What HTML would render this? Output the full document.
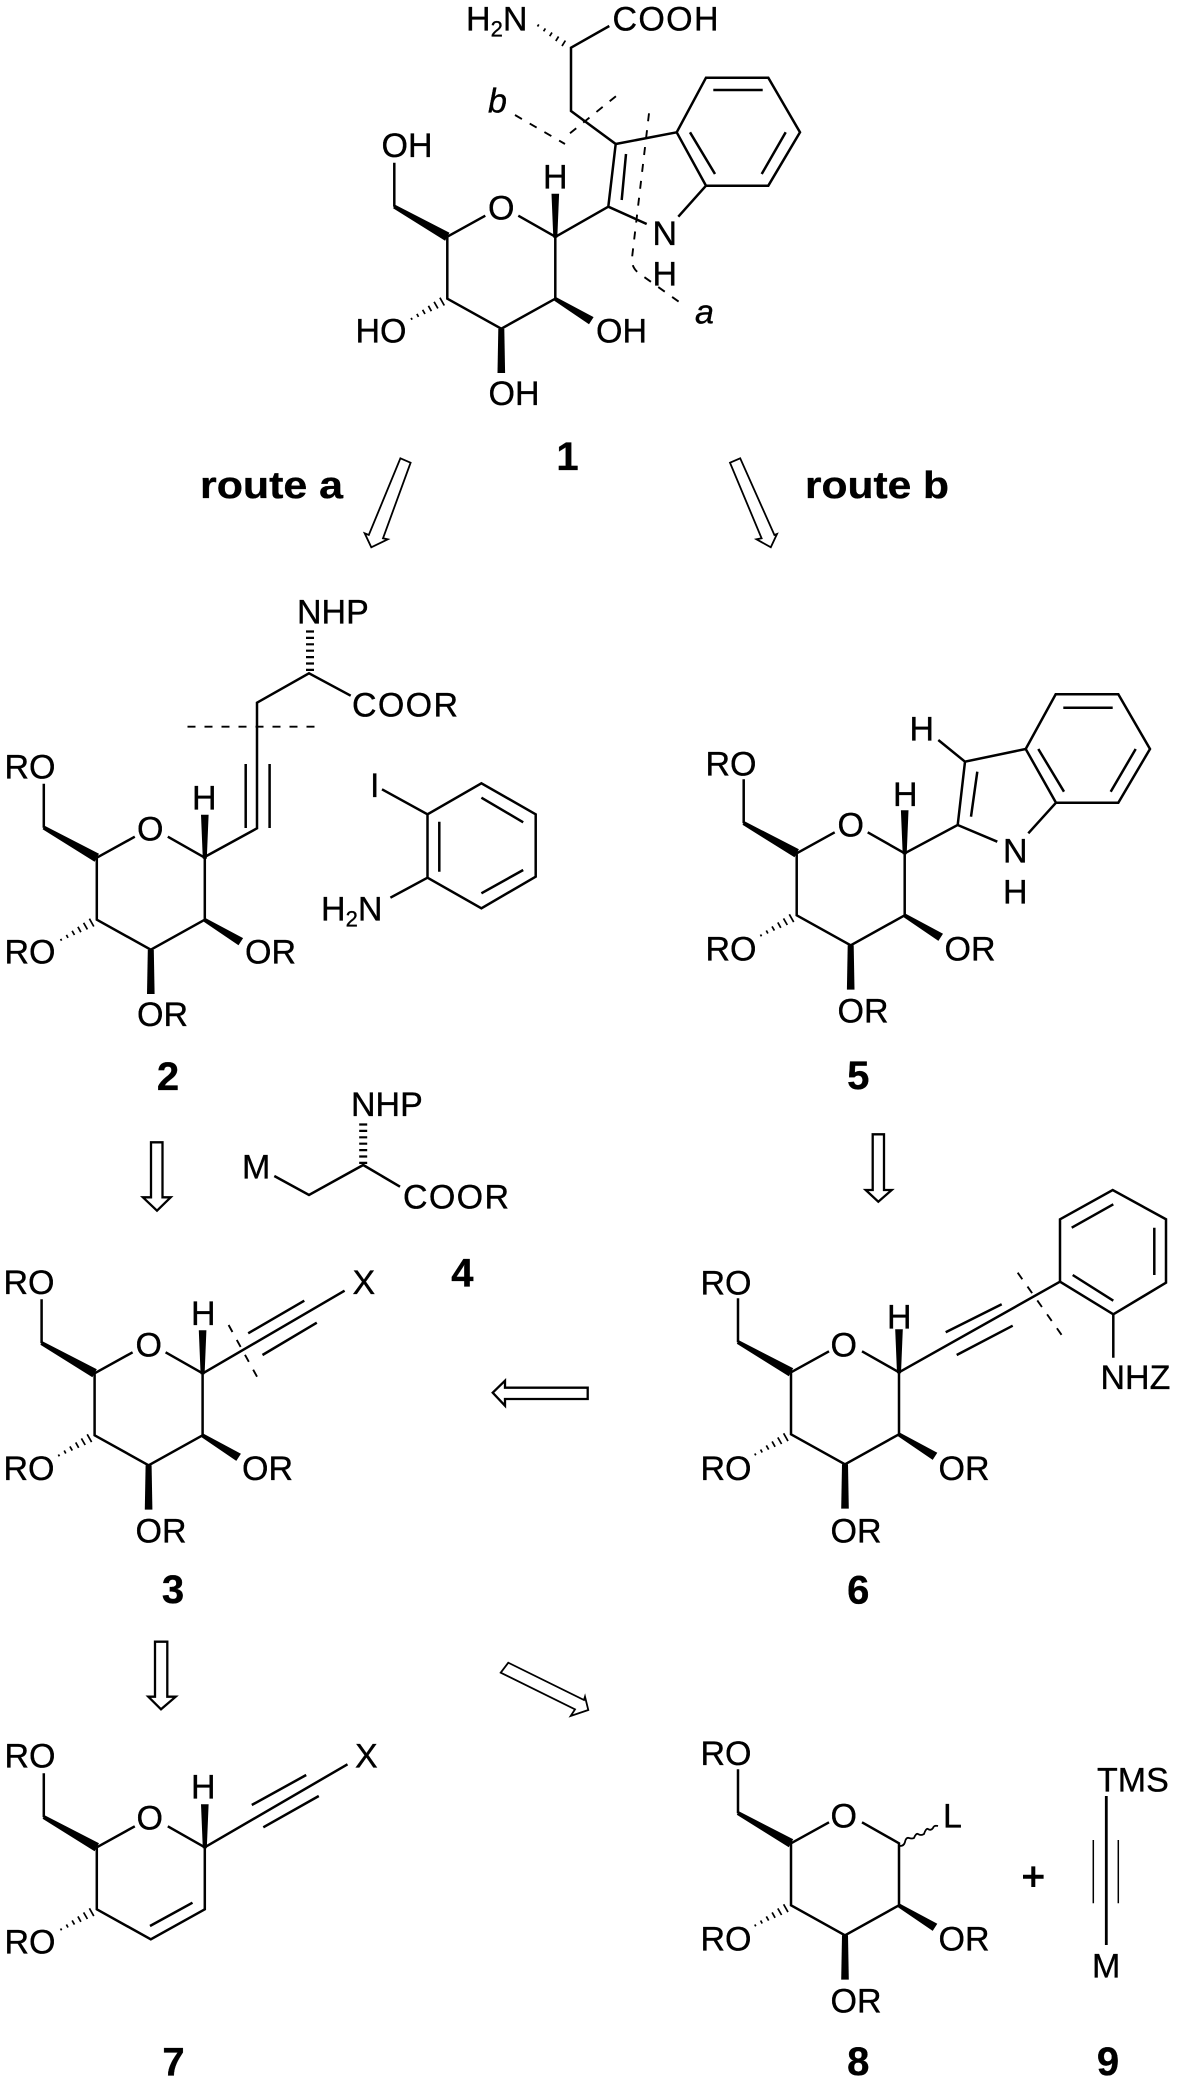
<!DOCTYPE html>
<html><head><meta charset="utf-8"><style>
html,body{margin:0;padding:0;background:#fff}
svg{display:block}
text{font-family:"Liberation Sans",sans-serif;font-size:34px;fill:#000;stroke:#000;stroke-width:.35}
.n{font-weight:bold;font-size:40px;text-anchor:middle}
.r{font-weight:bold;font-size:38px}
.i{font-style:italic}
.b{fill:none;stroke:#000;stroke-width:2.5;stroke-linejoin:miter}
.d{fill:none;stroke:#000;stroke-width:1.9;stroke-dasharray:8 9}
.h{fill:none;stroke:#000;stroke-width:8;stroke-dasharray:2.2 4.2}
.t{fill:none;stroke:#000;stroke-width:1.7}
.a{fill:#fff;stroke:#000;stroke-width:2.3}
.a2{fill:#fff;stroke:#000;stroke-width:1.8}
</style></head><body>
<svg width="1181" height="2088" viewBox="0 0 1181 2088" xmlns="http://www.w3.org/2000/svg">
<defs>
<g id="core">
<path class="b" d="M-53,-74V-30M0,0L38,-21M71,-21L108,0V62L54,92L0,62V0"/>
<polygon points="-52.2,-32 -54.2,-28.5 -2.2,4 2.2,-4"/>
<path class="t" d="M-7.4,61L-3,68.8M-13.2,65.1L-9.4,71.7M-18.9,69.1L-15.9,74.5M-24.7,73.1L-22.3,77.3M-30.4,77.2L-28.8,80.2M-36.2,81.2L-35.2,83"/>
</g>
<polygon id="hw" points="106,1 110,1 111.8,-43 104.2,-43"/>
<g id="sub">
<polygon points="109,60.5 107,64 141.7,87.6 146.3,80.4"/>
<polygon points="51,92 57,92 57.8,136.3 50.2,136.3"/>
</g>
</defs>
<rect width="1181" height="2088" fill="#fff"/>

<!-- compound 1 -->
<g transform="translate(447.3,236.7)"><use href="#core"/><use href="#hw"/><use href="#sub"/></g>
<path class="t" d="M565.4,40.6L562,46M558.6,36.5L555.8,41M552,32.5L549.7,36.2M545.4,28.4L543.6,31.3M538.8,24.4L537.5,26.5"/>
<path class="b" d="M609.3,26L571,47.7V111L615.7,144L608.3,206.7L646.7,224M555.7,236.7L608.3,206.7M615.7,144L676.7,132.3L706,77.7H768.3L800,132.3L768.3,185.7H706L676.7,132.3M706,185.7L678.3,216.7M713.3,90H762.7M690,132.3L715,174M785.7,132.3L761.7,174M626,154L621.7,200"/>
<path class="d" d="M515,115L565,144M570,133.3L618.3,94.3"/>
<path class="d" d="M649,113.3L632,258Q631,268 640,274L682,304"/>
<text x="466" y="30.7">H<tspan font-size="22" dy="6">2</tspan><tspan dy="-6">N</tspan></text>
<text x="612.5" y="30.7" textLength="106" lengthAdjust="spacing">COOH</text>
<text x="381.5" y="157">OH</text>
<text x="488" y="219.3">O</text>
<text x="543" y="188.3">H</text>
<text x="652.5" y="245">N</text>
<text x="652.5" y="285.7">H</text>
<text x="355.5" y="342.3">HO</text>
<text x="596" y="342.3">OH</text>
<text x="488.5" y="405">OH</text>
<text class="i" x="488" y="112.7">b</text>
<text class="i" x="695" y="323.3">a</text>
<text class="n" x="567.5" y="470">1</text>

<!-- routes -->
<text class="r" x="200" y="498" textLength="143" lengthAdjust="spacingAndGlyphs">route a</text>
<text class="r" x="805" y="498" textLength="144" lengthAdjust="spacingAndGlyphs">route b</text>
<polygon class="a2" points="400.4,458.3 410.6,462.7 383,538.3 387.7,539.3 371.3,547.3 364.7,533.3 368.8,535"/>
<polygon class="a2" points="730,462.7 740.2,458.3 774.4,535 777,534 770.8,547.3 756.5,539.3 761.6,538.3"/>

<!-- compound 2 -->
<g transform="translate(96.8,857.7)"><use href="#core"/><use href="#hw"/><use href="#sub"/></g>
<path class="b" d="M204.6,857L257,828.3V702.7L309,673.3L350.7,695.7M245.7,764V828M269.6,764V828M382,789.3L427.5,814.3L481.4,783.3L535.7,814.3V876.7L481.4,908.3L427.5,877.7V814.3M439.3,821.7V871.7M481.4,797.7L523.2,822.3M481.4,893.3L523.2,870M427.5,877.7L390.4,897.7"/>
<line class="h" x1="310" y1="671" x2="310" y2="630"/>
<line class="d" x1="187.5" y1="726.7" x2="321.4" y2="726.7"/>
<text x="297" y="623.3">NHP</text>
<text x="352" y="716.7" textLength="106" lengthAdjust="spacing">COOR</text>
<text x="4.5" y="778.3">RO</text>
<text x="137" y="840.7">O</text>
<text x="192" y="809.3">H</text>
<text x="370" y="797">I</text>
<text x="321" y="920.7">H<tspan font-size="22" dy="6">2</tspan><tspan dy="-6">N</tspan></text>
<text x="4.5" y="963.3">RO</text>
<text x="245" y="963.3">OR</text>
<text x="137" y="1026">OR</text>
<text class="n" x="168" y="1090">2</text>

<!-- compound 5 -->
<g transform="translate(796.7,853.3)"><use href="#core"/><use href="#hw"/><use href="#sub"/></g>
<path class="b" d="M904.7,853.3L957.7,825L965,761.7L1025.7,749L1055.7,694.3H1118.3L1150,749L1118.3,802.7H1056L1025.7,749M957.7,825L997.3,841.7M1056,802.7L1028.3,833.3M1063.3,707.7H1112.7M1038.3,749L1064,791.7M1135.7,749L1110.7,791.7M977.3,771.7L971,816.7M938.3,740L965,761.7"/>
<text x="705.5" y="775.7">RO</text>
<text x="837.5" y="836.7">O</text>
<text x="893" y="806">H</text>
<text x="909.5" y="740.7">H</text>
<text x="1003" y="862.3">N</text>
<text x="1003" y="903.3">H</text>
<text x="705.5" y="960.7">RO</text>
<text x="944.5" y="960.7">OR</text>
<text x="837.5" y="1022.3">OR</text>
<text class="n" x="858.3" y="1089">5</text>

<!-- compound 4 + arrows -->
<line class="h" x1="363.2" y1="1164" x2="363.2" y2="1122.7"/>
<path class="b" d="M274.3,1176L309,1195L363.2,1165L400,1186.7"/>
<text x="351" y="1116">NHP</text>
<text x="242" y="1178.3">M</text>
<text x="403" y="1208.3" textLength="106" lengthAdjust="spacing">COOR</text>
<text class="n" x="462.4" y="1286.7">4</text>
<polygon class="a" points="151,1142.3 162.5,1142.3 162.5,1197.3 170.7,1197.3 157,1210.7 142.9,1197.3 151,1197.3"/>
<polygon class="a" points="872.7,1134.3 884,1134.3 884,1190 891.7,1190 878.3,1201.7 865.7,1190 872.7,1190"/>
<polygon class="a" points="492.7,1392.7 505,1380.7 505,1387.7 587.7,1387.7 587.7,1399 505,1399 505,1405.7"/>

<!-- compound 3 -->
<g transform="translate(94.6,1373.3)"><use href="#core"/><use href="#hw"/><use href="#sub"/></g>
<path class="b" d="M202.9,1373.3L344.6,1290.7M248.2,1333.3L304.3,1300.7M262.5,1355L316.8,1322.7"/>
<line class="d" x1="228.6" y1="1325" x2="257.9" y2="1378.3"/>
<text x="3.5" y="1294">RO</text>
<text x="135.5" y="1356.7">O</text>
<text x="191" y="1325">H</text>
<text x="352.5" y="1294">X</text>
<text x="3.5" y="1480">RO</text>
<text x="242" y="1480">OR</text>
<text x="135.5" y="1542.3">OR</text>
<text class="n" x="173" y="1603">3</text>

<!-- compound 6 -->
<g transform="translate(791,1372.3)"><use href="#core"/><use href="#hw"/><use href="#sub"/></g>
<path class="b" d="M899,1372.3L1060,1281.7V1219.3L1112.7,1190L1166,1219.3V1282.7L1113.3,1314.3L1060,1281.7M945.7,1332.3L1001.7,1304.3M956.7,1355L1012.7,1325.7M1071.7,1227.7L1113.3,1204.3M1154.3,1227.7V1275M1072.7,1275L1113.3,1300.7M1113.3,1314.3V1357.7"/>
<line class="d" x1="1017.7" y1="1272.7" x2="1063.3" y2="1337.3"/>
<text x="700.5" y="1294.3">RO</text>
<text x="830.5" y="1356.7">O</text>
<text x="887" y="1328.3">H</text>
<text x="1100.5" y="1389">NHZ</text>
<text x="700.5" y="1480">RO</text>
<text x="938.5" y="1480">OR</text>
<text x="830.5" y="1542.3">OR</text>
<text class="n" x="858.3" y="1603.3">6</text>

<!-- arrows lower -->
<polygon class="a" points="155,1641.7 167.3,1641.7 167.3,1696.7 175.7,1696.7 161,1709.3 148.3,1696.7 155,1696.7"/>
<polygon class="a2" points="508.3,1662.7 500.7,1672.7 575,1709.3 570.7,1716 588.3,1710 585,1696.7 584,1700"/>

<!-- compound 7 -->
<g transform="translate(96.8,1847.3)"><use href="#core"/><use href="#hw"/></g>
<path class="b" d="M204.7,1847.3L347.5,1764.3M251.8,1805L306.2,1775M263.3,1827.3L318.8,1796M150,1926L192.5,1902.7"/>
<text x="4.5" y="1767.3">RO</text>
<text x="136.5" y="1829.3">O</text>
<text x="191" y="1798.3">H</text>
<text x="355" y="1767.3">X</text>
<text x="4.5" y="1953.3">RO</text>
<text class="n" x="173.5" y="2075.7">7</text>

<!-- compound 8 -->
<g transform="translate(791,1843.3)"><use href="#core"/><use href="#sub"/></g>
<path class="b" style="stroke-width:1.8" d="M900,1846q4,0 5,-4q1,-5 4,-4q3,1 5,0q2,-5 4,-4q3,2 6,0q2,-6 4,-5q3,2 5,-1q1,-3 5,-2"/>
<text x="700.5" y="1765">RO</text>
<text x="830.5" y="1827.3">O</text>
<text x="943" y="1827.7">L</text>
<text x="700.5" y="1950.7">RO</text>
<text x="938.5" y="1950.7">OR</text>
<text x="830.5" y="2012.3">OR</text>
<text class="n" x="858.3" y="2075">8</text>

<!-- plus + compound 9 -->
<path fill="none" stroke="#000" stroke-width="4" d="M1023,1876.7H1043.6M1033.3,1866.4V1887"/>
<path class="b" style="stroke-width:2.8" d="M1106.3,1796V1945"/>
<path class="b" style="stroke-width:1.5" d="M1093.3,1840V1903.3M1118.3,1840V1903.3"/>
<text x="1097" y="1791.7">TMS</text>
<text x="1092" y="1977.3">M</text>
<text class="n" x="1108" y="2075">9</text>
</svg>
</body></html>
